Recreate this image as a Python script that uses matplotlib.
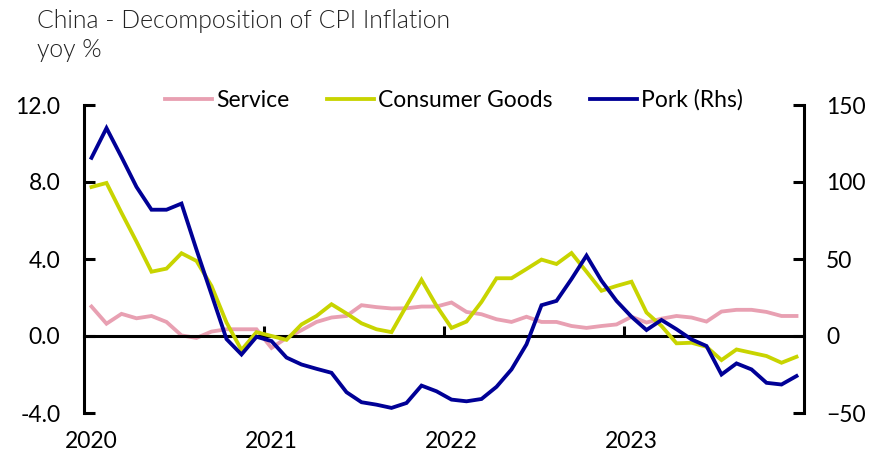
import matplotlib.pyplot as plt
from matplotlib.transforms import blended_transform_factory
import numpy as np

plt.rcParams['font.family'] = ['Lato', 'DejaVu Sans']

# monthly, Jan 2020 - Dec 2023
years = ['2020', '2021', '2022', '2023']

service = [1.53, 0.64, 1.15, 0.92, 1.04, 0.73, 0.03, -0.1, 0.23, 0.35, 0.35, 0.35,
           -0.62, -0.1, 0.3, 0.73, 0.96, 1.04, 1.6, 1.5, 1.43, 1.44, 1.53, 1.53,
           1.74, 1.25, 1.13, 0.87, 0.73, 1.0, 0.73, 0.73, 0.52, 0.42, 0.52, 0.6,
           1.0, 0.7, 0.9, 1.04, 0.96, 0.75, 1.27, 1.36, 1.36, 1.25, 1.04, 1.04]

consumer_goods = [7.74, 7.95, 6.4, 4.9, 3.34, 3.5, 4.3, 3.9, 2.6, 0.7, -0.73, 0.2,
                  0.0, -0.2, 0.6, 1.04, 1.65, 1.17, 0.66, 0.35, 0.2, 1.57, 2.92, 1.57,
                  0.42, 0.75, 1.77, 3.0, 3.0, 3.48, 3.97, 3.74, 4.31, 3.34, 2.35, 2.6,
                  2.82, 1.22, 0.52, -0.38, -0.35, -0.56, -1.25, -0.7, -0.87, -1.04, -1.39, -1.08]

pork = [115.7, 135.0, 116.2, 96.8, 82.0, 82.0, 86.0, 56.0, 27.0, -2.0, -12.0, -0.5,
        -3.3, -14.0, -18.5, -21.3, -23.9, -36.5, -43.0, -44.6, -46.7, -43.5, -32.2, -35.9,
        -41.3, -42.4, -40.9, -33.0, -21.7, -5.4, 20.0, 22.8, 37.0, 52.2, 35.9, 22.8,
        12.5, 3.9, 10.4, 4.4, -2.2, -6.5, -25.0, -17.8, -21.7, -30.4, -31.5, -26.0]

x = np.arange(len(service))
fs = 16.5

fig = plt.figure(figsize=(8.7, 4.55), dpi=100)
ax = fig.add_axes([84 / 870, 1 - 413 / 455, 720 / 870, 308 / 455])
ax2 = ax.twinx()

l1, = ax.plot(x, service, color='#E8A0B2', lw=2.75, solid_joinstyle='miter', zorder=2)
l2, = ax.plot(x, consumer_goods, color='#C8D400', lw=2.75, solid_joinstyle='miter', zorder=3)
l3, = ax2.plot(x, pork, color='#000096', lw=2.75, solid_joinstyle='miter')

ax.set_xlim(-0.5, len(x) - 0.5)
ax.set_ylim(-4, 12)
ax2.set_ylim(-50, 150)
ax.set_yticks([-4, 0, 4, 8, 12])
ax.set_yticklabels(['-4.0', '0.0', '4.0', '8.0', '12.0'])
ax2.set_yticks([-50, 0, 50, 100, 150])

ax.spines['top'].set_visible(False)
ax.spines['right'].set_visible(False)
for s in ['top', 'bottom', 'left']:
    ax2.spines[s].set_visible(False)
ax.spines['bottom'].set_position(('data', 0))
ax.spines['bottom'].set_linewidth(2.2)
ax.spines['left'].set_linewidth(2.2)
ax2.spines['right'].set_linewidth(2.2)

ax.tick_params(axis='y', direction='in', length=8, width=2.2, pad=17, labelsize=fs)
ax2.tick_params(axis='y', direction='in', length=8, width=2.2, pad=16, labelsize=fs)
ax.set_xticks([11.5, 23.5, 35.5])
ax.tick_params(axis='x', direction='in', length=7, width=2.2, labelbottom=False)

trans = blended_transform_factory(ax.transData, ax.transAxes)
for i, yr in enumerate(years):
    ax.text(i * 12, -0.094, yr, transform=trans, ha='center', va='center', fontsize=fs)

fig.text(37 / 870, 1 - 21 / 455, 'China - Decomposition of CPI Inflation', fontsize=17.8,
         fontweight=300, color='#222222', va='center', ha='left')
fig.text(37 / 870, 1 - 50 / 455, 'yoy %', fontsize=17.8, fontweight=300, color='#222222',
         va='center', ha='left')

fig.legend([l1, l2, l3], ['Service', 'Consumer Goods', 'Pork (Rhs)'], ncol=3,
           loc='center left', bbox_to_anchor=(165 / 870, 1 - 100 / 455), frameon=False,
           fontsize=fs, handlelength=2.05, handletextpad=0.17, columnspacing=1.65,
           borderaxespad=0, borderpad=0)

fig.savefig('out.png', dpi=100)
